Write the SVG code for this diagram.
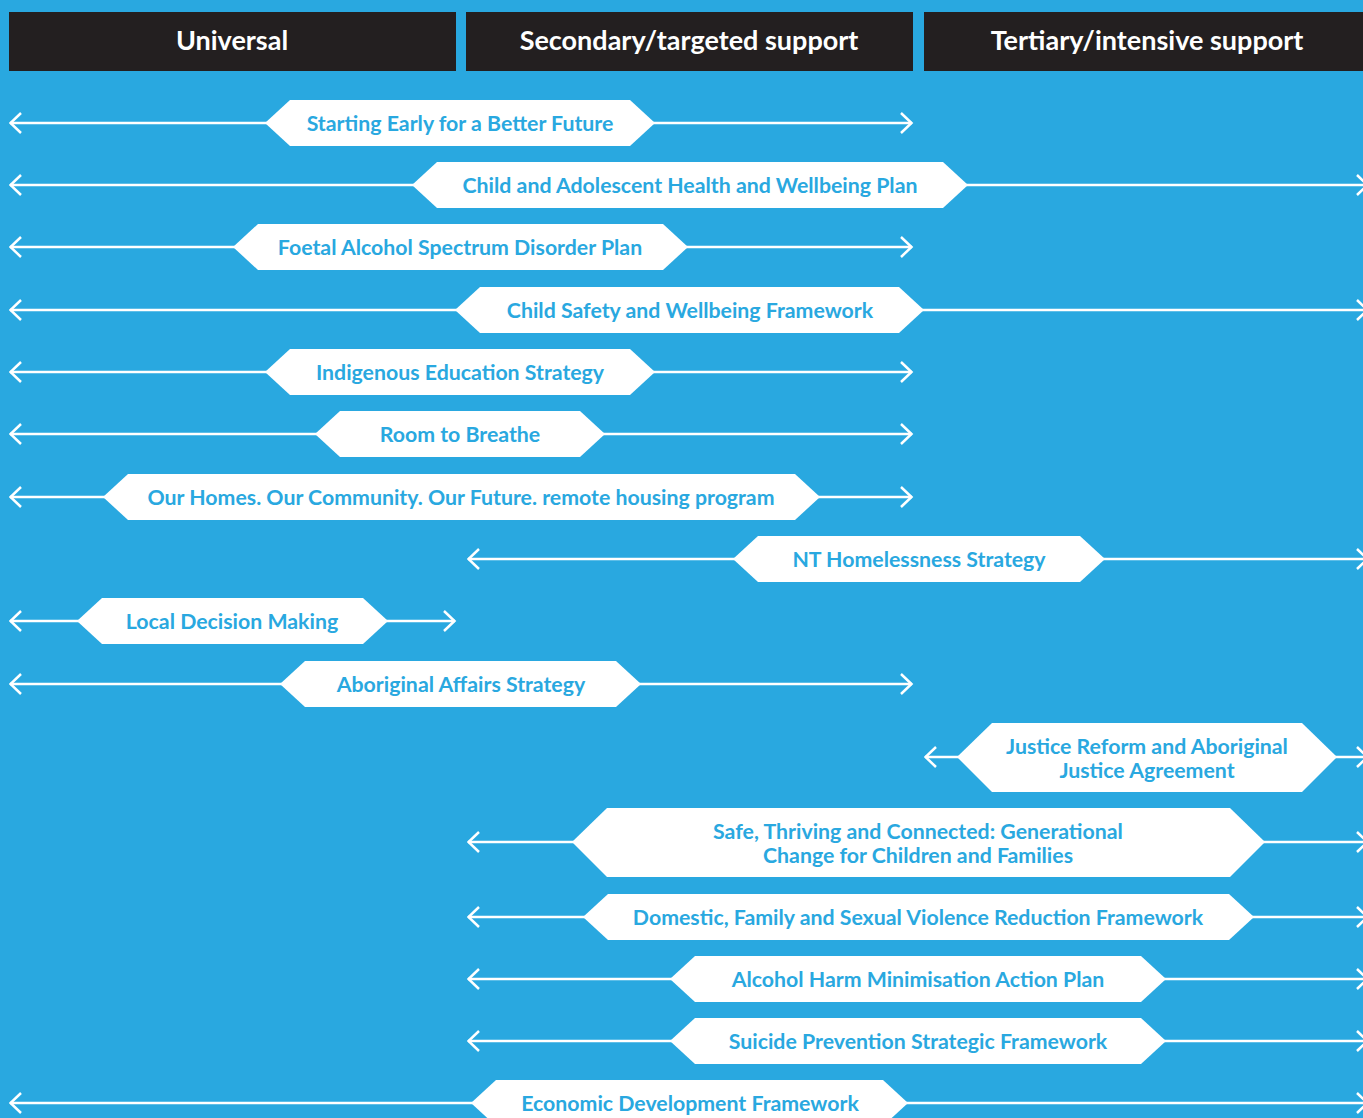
<svg xmlns="http://www.w3.org/2000/svg" width="1363" height="1118" viewBox="0 0 1363 1118">
<style>
.hdr{fill:#231F20}
.htxt{fill:#fff;font-family:Lato,"Liberation Sans",sans-serif;font-weight:700;font-size:27px;text-anchor:middle}
.hex{fill:#fff}
.lbl{fill:#29A8E0;font-family:Lato,"Liberation Sans",sans-serif;font-weight:700;font-size:21.3px;text-anchor:middle}
.ln{stroke:#fff;stroke-width:2.5;fill:none;marker-start:url(#arr);marker-end:url(#arr)}
</style>
<defs>
<marker id="arr" markerUnits="userSpaceOnUse" viewBox="0 0 14 24" refX="12.5" refY="12" markerWidth="14" markerHeight="24" orient="auto-start-reverse">
<path d="M1.5,2 L12,12 L1.5,22" fill="none" stroke="#fff" stroke-width="2.5"/>
</marker>
</defs>
<rect width="1363" height="1118" fill="#29A8E0"/>
<g id="headers">
<g id="h-universal"><rect class="hdr" x="9" y="12" width="447" height="59"/><text class="htxt" x="232" y="49.5">Universal</text></g>
<g id="h-secondary"><rect class="hdr" x="466" y="12" width="447" height="59"/><text class="htxt" x="689" y="49.5">Secondary/targeted support</text></g>
<g id="h-tertiary"><rect class="hdr" x="924" y="12" width="439" height="59"/><text class="htxt" x="1147" y="49.5">Tertiary/intensive support</text></g>
</g>
<g id="connectors">
<line class="ln" x1="10" y1="123" x2="912" y2="123"/>
<line class="ln" x1="10" y1="185" x2="1368" y2="185"/>
<line class="ln" x1="10" y1="247" x2="912" y2="247"/>
<line class="ln" x1="10" y1="310" x2="1368" y2="310"/>
<line class="ln" x1="10" y1="372" x2="912" y2="372"/>
<line class="ln" x1="10" y1="434" x2="912" y2="434"/>
<line class="ln" x1="10" y1="497" x2="912" y2="497"/>
<line class="ln" x1="468" y1="559" x2="1368" y2="559"/>
<line class="ln" x1="10" y1="621" x2="455" y2="621"/>
<line class="ln" x1="10" y1="684" x2="912" y2="684"/>
<line class="ln" x1="925" y1="757" x2="1368" y2="757"/>
<line class="ln" x1="468" y1="842" x2="1368" y2="842"/>
<line class="ln" x1="468" y1="917" x2="1368" y2="917"/>
<line class="ln" x1="468" y1="979" x2="1368" y2="979"/>
<line class="ln" x1="468" y1="1041" x2="1368" y2="1041"/>
<line class="ln" x1="10" y1="1103" x2="1368" y2="1103"/>
</g>
<g id="n1"><path class="hex" d="M265,123 L290,100 L630,100 L655,123 L630,146 L290,146 Z"/><text class="lbl" x="460" y="131">Starting Early for a Better Future</text></g>
<g id="n2"><path class="hex" d="M412,185 L437,162 L943,162 L968,185 L943,208 L437,208 Z"/><text class="lbl" x="690" y="193">Child and Adolescent Health and Wellbeing Plan</text></g>
<g id="n3"><path class="hex" d="M233,247 L258,224 L663,224 L688,247 L663,270 L258,270 Z"/><text class="lbl" x="460" y="255">Foetal Alcohol Spectrum Disorder Plan</text></g>
<g id="n4"><path class="hex" d="M455,310 L480,287 L899,287 L924,310 L899,333 L480,333 Z"/><text class="lbl" x="690" y="318">Child Safety and Wellbeing Framework</text></g>
<g id="n5"><path class="hex" d="M265,372 L290,349 L630,349 L655,372 L630,395 L290,395 Z"/><text class="lbl" x="460" y="380">Indigenous Education Strategy</text></g>
<g id="n6"><path class="hex" d="M315,434 L340,411 L580,411 L605,434 L580,457 L340,457 Z"/><text class="lbl" x="460" y="442">Room to Breathe</text></g>
<g id="n7"><path class="hex" d="M103,497 L128,474 L795,474 L820,497 L795,520 L128,520 Z"/><text class="lbl" x="461" y="505">Our Homes. Our Community. Our Future. remote housing program</text></g>
<g id="n8"><path class="hex" d="M733,559 L758,536 L1080,536 L1105,559 L1080,582 L758,582 Z"/><text class="lbl" x="919" y="567">NT Homelessness Strategy</text></g>
<g id="n9"><path class="hex" d="M77,621 L102,598 L363,598 L388,621 L363,644 L102,644 Z"/><text class="lbl" x="232" y="629">Local Decision Making</text></g>
<g id="n10"><path class="hex" d="M280,684 L305,661 L616,661 L641,684 L616,707 L305,707 Z"/><text class="lbl" x="461" y="692">Aboriginal Affairs Strategy</text></g>
<g id="n11"><path class="hex" d="M957,757 L992,723 L1302,723 L1337,757 L1302,792 L992,792 Z"/><text class="lbl" x="1147" y="754">Justice Reform and Aboriginal</text><text class="lbl" x="1147" y="778">Justice Agreement</text></g>
<g id="n12"><path class="hex" d="M572,842 L607,808 L1230,808 L1265,842 L1230,877 L607,877 Z"/><text class="lbl" x="918" y="839">Safe, Thriving and Connected: Generational</text><text class="lbl" x="918" y="863">Change for Children and Families</text></g>
<g id="n13"><path class="hex" d="M583,917 L608,894 L1229,894 L1254,917 L1229,940 L608,940 Z"/><text class="lbl" x="918" y="925">Domestic, Family and Sexual Violence Reduction Framework</text></g>
<g id="n14"><path class="hex" d="M670,979 L695,956 L1141,956 L1166,979 L1141,1002 L695,1002 Z"/><text class="lbl" x="918" y="987">Alcohol Harm Minimisation Action Plan</text></g>
<g id="n15"><path class="hex" d="M670,1041 L695,1018 L1141,1018 L1166,1041 L1141,1064 L695,1064 Z"/><text class="lbl" x="918" y="1049">Suicide Prevention Strategic Framework</text></g>
<g id="n16"><path class="hex" d="M471,1103 L496,1080 L883,1080 L908,1103 L883,1126 L496,1126 Z"/><text class="lbl" x="690" y="1111">Economic Development Framework</text></g>
</svg>
